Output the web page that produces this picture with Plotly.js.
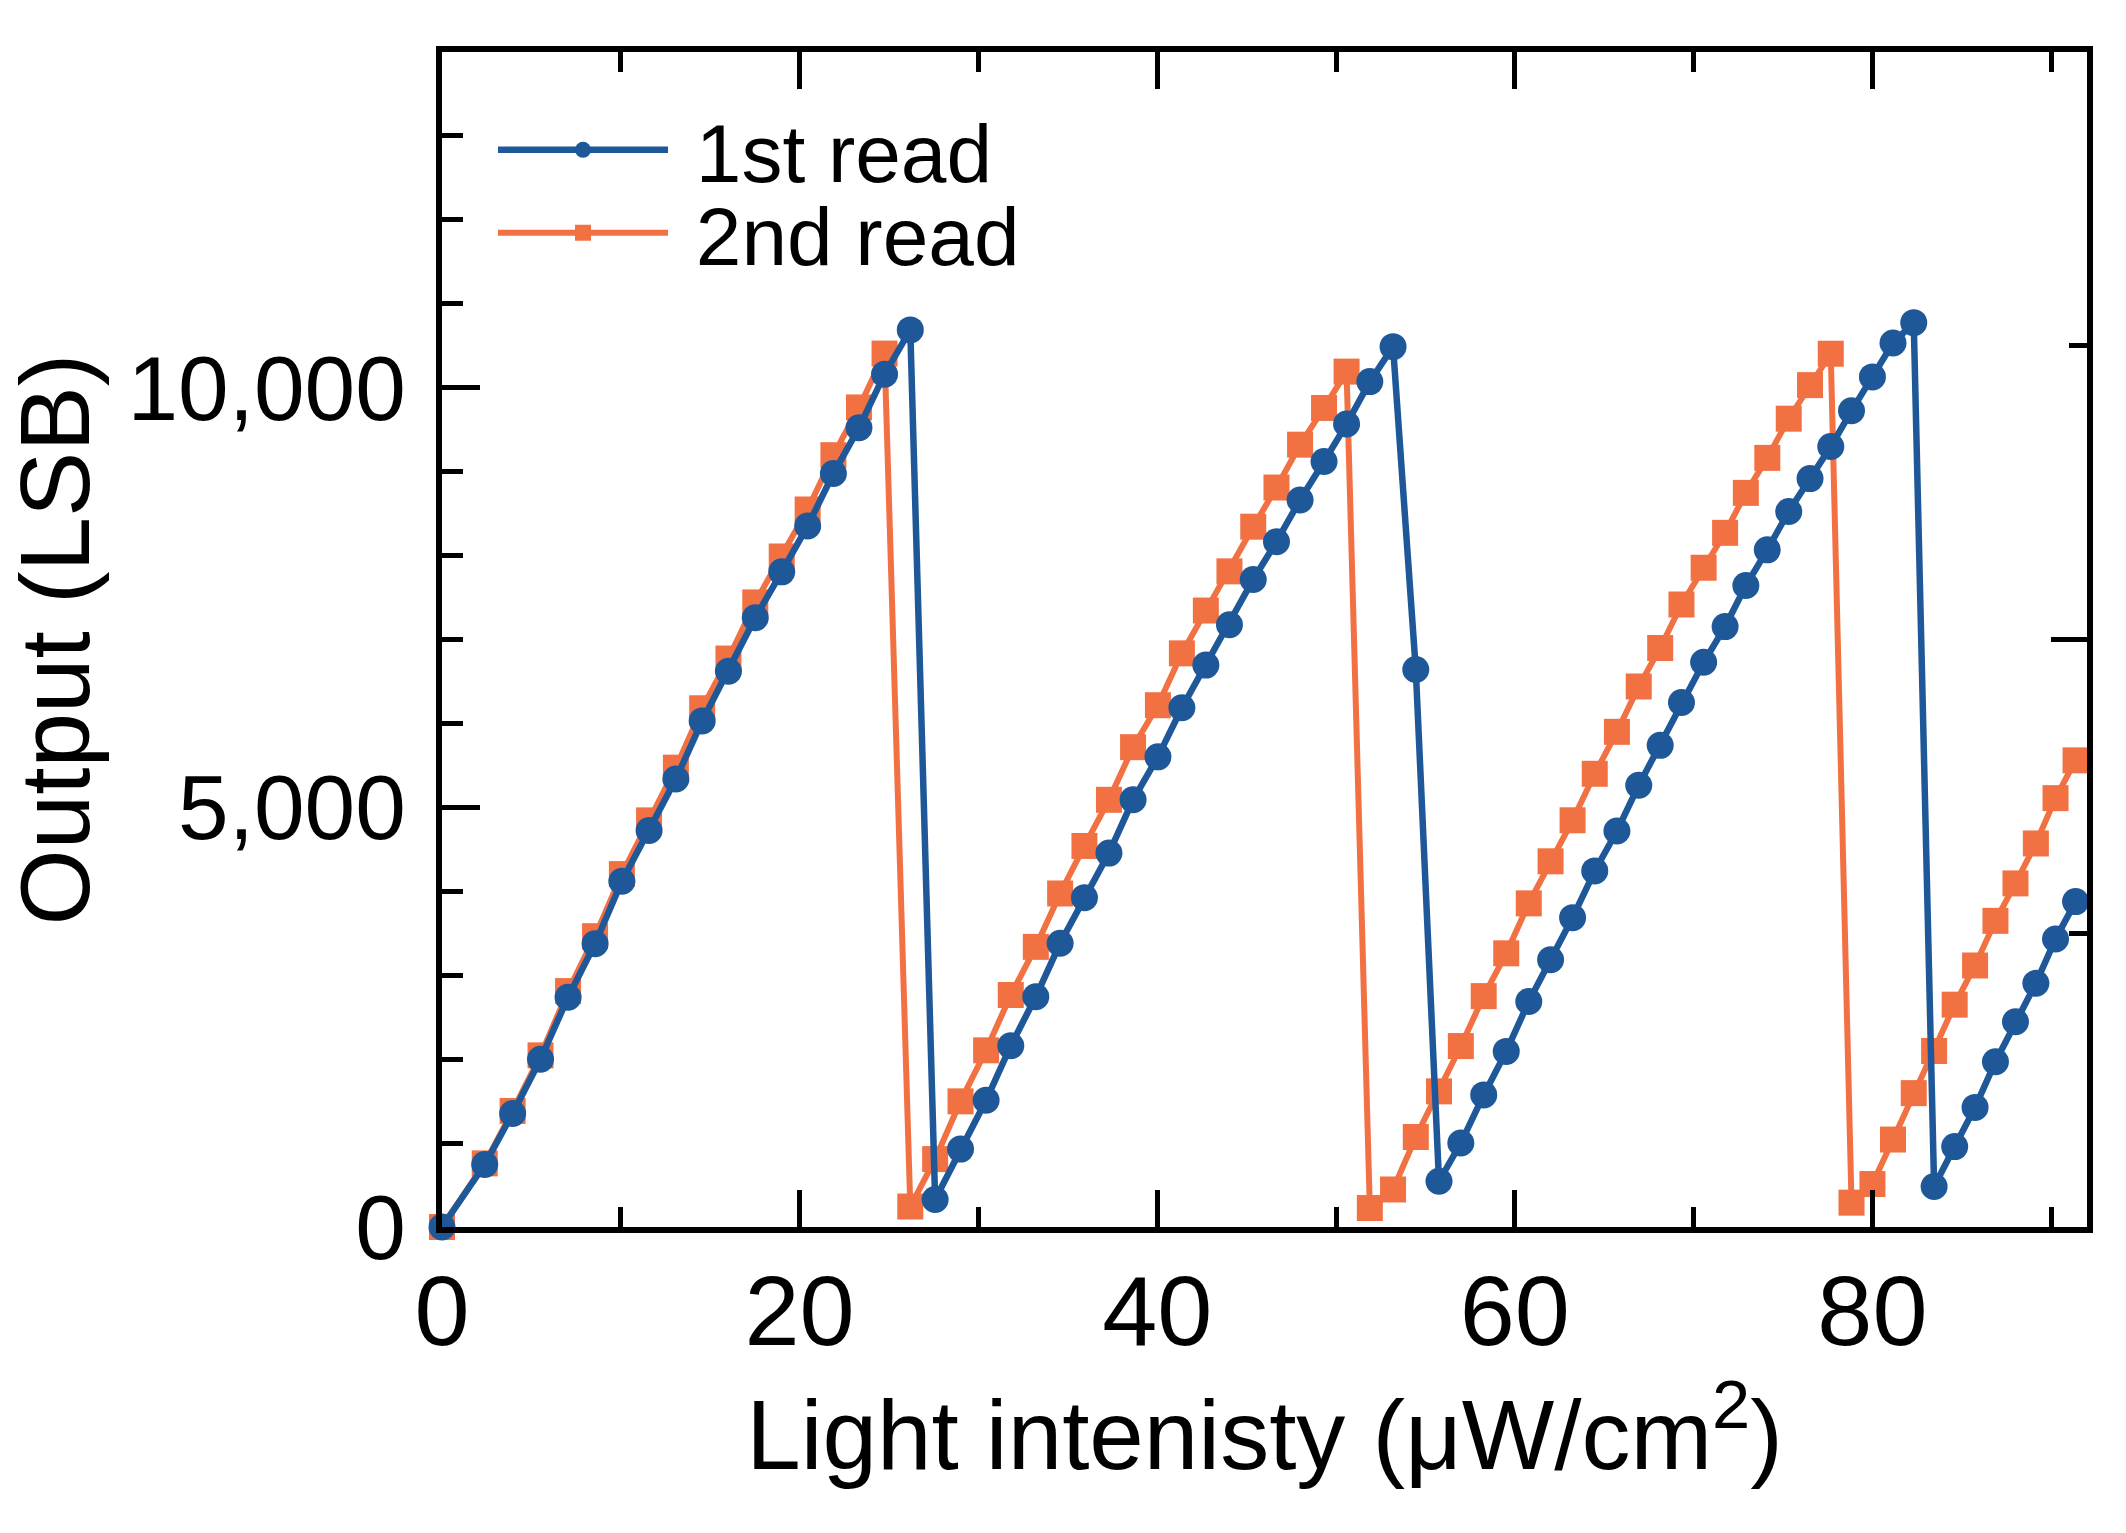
<!DOCTYPE html>
<html>
<head>
<meta charset="utf-8">
<script src="https://cdn.plot.ly/plotly-3.0.1.min.js"></script>
<style>
  html, body { margin: 0; padding: 0; background: #ffffff; }
  #chart { width: 2126px; height: 1533px; }
</style>
</head>
<body>
<div id="chart"></div>
<script>
// light intensity (uW/cm2), shared by both reads
var intensity = [
    0, 2.39, 3.95, 5.51, 7.05, 8.56, 10.06, 11.58, 13.08, 14.55, 16.02, 17.52, 19.0, 20.45, 21.89, 23.32, 24.75, 26.19,
    27.58, 29.0, 30.43, 31.81, 33.21, 34.57, 35.93, 37.3, 38.65, 40.04, 41.38, 42.72, 44.04, 45.37, 46.67, 47.99, 49.33, 50.59, 51.89, 53.19, 54.46,
    55.76, 56.98, 58.26, 59.52, 60.78, 62.0, 63.23, 64.47, 65.71, 66.93, 68.13, 69.32, 70.56, 71.76, 72.92, 74.12, 75.32, 76.51, 77.67, 78.83, 80.0, 81.15, 82.31,
    83.45, 84.6, 85.74, 86.88, 88.0, 89.14, 90.24, 91.36
];
var firstRead = [
    0, 745, 1353, 1999, 2738, 3376, 4120, 4724, 5337, 6030, 6622, 7260, 7806, 8353, 8977, 9523, 10161, 10689,
    328, 928, 1510, 2160, 2743, 3380, 3924, 4455, 5090, 5602, 6187, 6695, 7175, 7715, 8165, 8662, 9121, 9567, 10073, 10489, 6643,
    545, 1000, 1574, 2092, 2687, 3185, 3686, 4243, 4718, 5263, 5739, 6250, 6729, 7154, 7643, 8068, 8526, 8917, 9299, 9725, 10129, 10532, 10775,
    482, 958, 1425, 1969, 2445, 2904, 3431, 3877
];
var secondRead = [
    0, 758, 1383, 2045, 2811, 3465, 4205, 4845, 5473, 6181, 6773, 7442, 7989, 8549, 9196, 9765, 10407, 244,
    809, 1497, 2105, 2764, 3338, 3974, 4540, 5090, 5717, 6217, 6835, 7345, 7812, 8344, 8811, 9321, 9759, 10192, 226, 447, 1072,
    1616, 2156, 2751, 3261, 3856, 4357, 4846, 5400, 5900, 6440, 6899, 7417, 7855, 8271, 8747, 9164, 9631, 10031, 10405, 290, 512, 1042, 1595,
    2097, 2649, 3116, 3648, 4094, 4570, 5110, 5560
];
var seriesNames = ["1st read", "2nd read"];
var xTickVals = [0, 20, 40, 60, 80];
var yTickVals = [0, 5000, 10000];
var yTickText = ["0", "5,000", "10,000"];

var BLUE = "#1f5899";
var ORANGE = "#f17142";
var FONT = "Liberation Sans, Arial, sans-serif";

var trace2 =
{
    x: intensity,
    y: secondRead,
    // nbsp keeps the gap between legend line and text
    name: "\u00a0" + seriesNames[1],
    type: "scatter",
    mode: "lines+markers",
    line: {color: ORANGE, width: 6},
    marker: {symbol: "square", size: 26, color: ORANGE},
    cliponaxis: false,
    legend: "legend2"
};
var trace1 =
{
    x: intensity,
    y: firstRead,
    name: "\u00a0" + seriesNames[0],
    type: "scatter",
    mode: "lines+markers",
    line: {color: BLUE, width: 6.5},
    marker: {symbol: "circle", size: 27, color: BLUE},
    cliponaxis: false,
    legend: "legend"
};
// empty trace so the right-hand axis gets drawn
var rightAxisHolder =
{
    x: [],
    y: [],
    yaxis: "y2",
    type: "scatter",
    showlegend: false,
    hoverinfo: "skip"
};

var layout =
{
    width: 2126,
    height: 1533,
    paper_bgcolor: "#ffffff",
    plot_bgcolor: "#ffffff",
    font: {family: FONT, size: 97, color: "#000000"},
    margin: {l: 442, r: 39, t: 52, b: 306},
    showlegend: true,
    xaxis:
    {
        range: [0, 92],
        tickmode: "array",
        tickvals: xTickVals,
        ticks: "inside",
        ticklen: 37,
        tickwidth: 5,
        tickcolor: "#000000",
        minor: {dtick: 10, tick0: 0, ticks: "inside", ticklen: 20, tickwidth: 5, tickcolor: "#000000"},
        showline: true,
        linewidth: 6,
        linecolor: "#000000",
        mirror: "ticks",
        showgrid: false,
        zeroline: false,
        ticklabelstandoff: -7,
        tickfont: {family: FONT, size: 99},
        title: {text: "Light intenisty (\u03bcW/cm<sup>2</sup>)", font: {family: FONT, size: 98}, standoff: 30}
    },
    yaxis:
    {
        range: [0, 14000],
        tickmode: "array",
        tickvals: yTickVals,
        ticktext: yTickText,
        ticks: "inside",
        ticklen: 38,
        tickwidth: 5,
        tickcolor: "#000000",
        minor: {dtick: 1000, tick0: 0, ticks: "inside", ticklen: 21, tickwidth: 5, tickcolor: "#000000"},
        showline: true,
        linewidth: 6,
        linecolor: "#000000",
        showgrid: false,
        zeroline: false,
        ticklabelstandoff: 12,
        tickfont: {family: FONT, size: 91},
        title: {text: "Output (LSB)", font: {family: FONT, size: 98}, standoff: 23}
    },
    yaxis2:
    {
        overlaying: "y",
        side: "right",
        range: [0, 14000],
        tick0: 0,
        dtick: 7000,
        ticks: "inside",
        ticklen: 36,
        tickwidth: 5,
        tickcolor: "#000000",
        minor: {dtick: 3500, tick0: 0, ticks: "inside", ticklen: 18, tickwidth: 5, tickcolor: "#000000"},
        showticklabels: false,
        showline: true,
        linewidth: 6,
        linecolor: "#000000",
        showgrid: false,
        zeroline: false
    },
    legend:
    {
        x: 0.031,
        y: 0.9166,
        xanchor: "left",
        yanchor: "middle",
        bgcolor: "rgba(0,0,0,0)",
        borderwidth: 0,
        itemwidth: 170,
        font: {family: FONT, size: 82}
    },
    legend2:
    {
        x: 0.031,
        y: 0.846,
        xanchor: "left",
        yanchor: "middle",
        bgcolor: "rgba(0,0,0,0)",
        borderwidth: 0,
        itemwidth: 170,
        font: {family: FONT, size: 82}
    }
};

Plotly.newPlot("chart", [trace2, trace1, rightAxisHolder], layout, {displayModeBar: false, staticPlot: true});
</script>
</body>
</html>
